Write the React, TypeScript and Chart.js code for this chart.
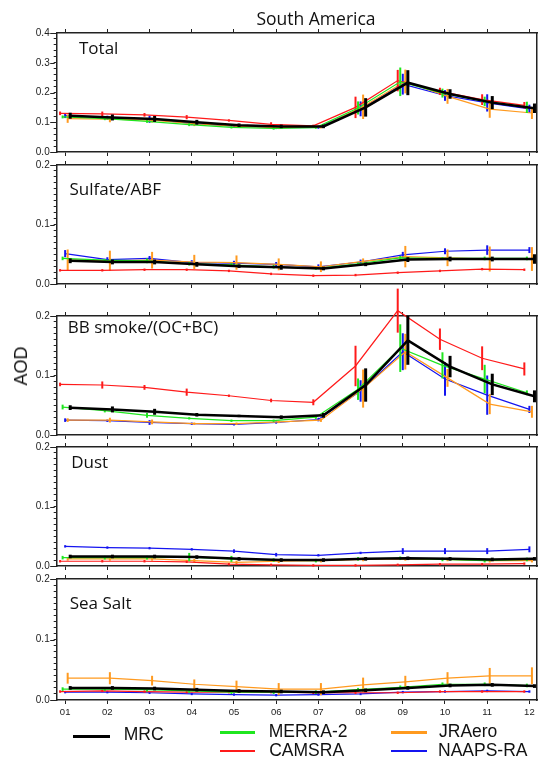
import React, { useEffect, useRef } from 'react';
import { Chart, registerables } from 'chart.js';

Chart.register(...registerables);

// ---------------- data ----------------
const months = [1, 2, 3, 4, 5, 6, 7, 8, 9, 10, 11, 12];
const monthLabels = ['01', '02', '03', '04', '05', '06', '07', '08', '09', '10', '11', '12'];

const modelNames = ['MRC', 'MERRA-2', 'CAMSRA', 'JRAero', 'NAAPS-RA'];
const modelColors = ['#000000', '#1fe61f', '#ff1a1a', '#ff9a1f', '#1414f0'];
const modelOffsets = [0.12, -0.06, -0.12, 0.06, 0];

const panelTitles = ['Total', 'Sulfate/ABF', 'BB smoke/(OC+BC)', 'Dust', 'Sea Salt'];
const panelMax = [0.4, 0.2, 0.2, 0.2, 0.2];
const panelMinorStep = [0.02, 0.01, 0.01, 0.01, 0.01];

// Total
const mrcTotal = [0.122, 0.116, 0.111, 0.100, 0.090, 0.086, 0.086, 0.150, 0.233, 0.195, 0.166, 0.147];
const merraTotal = [0.118, 0.112, 0.103, 0.092, 0.083, 0.079, 0.082, 0.148, 0.236, 0.198, 0.170, 0.150];
const camsTotal = [0.130, 0.128, 0.125, 0.117, 0.106, 0.093, 0.088, 0.150, 0.240, 0.204, 0.176, 0.157];
const jraTotal = [0.112, 0.110, 0.107, 0.095, 0.087, 0.082, 0.084, 0.152, 0.237, 0.187, 0.144, 0.131];
const naapsTotal = [0.122, 0.115, 0.110, 0.096, 0.087, 0.082, 0.083, 0.145, 0.228, 0.190, 0.165, 0.145];
const mrcTotalErr = [0.010, 0.010, 0.010, 0.008, 0.006, 0.006, 0.006, 0.031, 0.042, 0.016, 0.022, 0.016];
const merraTotalErr = [0.005, 0.005, 0.005, 0.005, 0.004, 0.004, 0.004, 0.022, 0.048, 0.015, 0.016, 0.019];
const camsTotalErr = [0.006, 0.008, 0.006, 0.007, 0.004, 0.007, 0.004, 0.036, 0.036, 0.012, 0.018, 0.011];
const jraTotalErr = [0.014, 0.010, 0.008, 0.008, 0.006, 0.005, 0.005, 0.041, 0.040, 0.025, 0.029, 0.020];
const naapsTotalErr = [0.008, 0.007, 0.012, 0.006, 0.005, 0.005, 0.005, 0.025, 0.035, 0.018, 0.029, 0.014];

// Sulfate / ABF
const mrcSulf = [0.039, 0.037, 0.037, 0.033, 0.030, 0.028, 0.026, 0.033, 0.041, 0.042, 0.042, 0.042];
const merraSulf = [0.043, 0.040, 0.039, 0.034, 0.032, 0.029, 0.026, 0.034, 0.044, 0.043, 0.043, 0.043];
const camsSulf = [0.023, 0.023, 0.024, 0.024, 0.022, 0.017, 0.014, 0.015, 0.019, 0.022, 0.025, 0.024];
const jraSulf = [0.040, 0.039, 0.040, 0.037, 0.036, 0.033, 0.029, 0.038, 0.046, 0.044, 0.042, 0.042];
const naapsSulf = [0.051, 0.041, 0.043, 0.036, 0.035, 0.033, 0.029, 0.037, 0.049, 0.055, 0.057, 0.057];
const mrcSulfErr = [0.004, 0.004, 0.004, 0.004, 0.003, 0.004, 0.003, 0.003, 0.004, 0.004, 0.004, 0.008];
const merraSulfErr = [0.003, 0.002, 0.004, 0.003, 0.003, 0.003, 0.002, 0.002, 0.003, 0.002, 0.003, 0.003];
const camsSulfErr = [0.002, 0.002, 0.002, 0.002, 0.002, 0.002, 0.002, 0.002, 0.002, 0.002, 0.002, 0.002];
const jraSulfErr = [0.018, 0.017, 0.014, 0.012, 0.012, 0.010, 0.009, 0.005, 0.018, 0.014, 0.021, 0.020];
const naapsSulfErr = [0.006, 0.004, 0.004, 0.004, 0.004, 0.004, 0.004, 0.004, 0.005, 0.005, 0.008, 0.005];

// BB smoke / (OC+BC)
const mrcBB = [0.046, 0.043, 0.039, 0.034, 0.032, 0.030, 0.033, 0.084, 0.159, 0.115, 0.085, 0.065];
const merraBB = [0.047, 0.041, 0.033, 0.028, 0.024, 0.024, 0.030, 0.077, 0.146, 0.117, 0.094, 0.071];
const camsBB = [0.085, 0.084, 0.080, 0.072, 0.066, 0.058, 0.055, 0.116, 0.209, 0.161, 0.129, 0.111];
const jraBB = [0.025, 0.025, 0.022, 0.019, 0.019, 0.022, 0.025, 0.078, 0.140, 0.096, 0.052, 0.039];
const naapsBB = [0.025, 0.024, 0.021, 0.019, 0.018, 0.021, 0.026, 0.074, 0.140, 0.094, 0.067, 0.043];
const mrcBBErr = [0.004, 0.005, 0.005, 0.003, 0.002, 0.003, 0.004, 0.028, 0.041, 0.018, 0.018, 0.010];
const merraBBErr = [0.004, 0.003, 0.004, 0.002, 0.002, 0.002, 0.003, 0.018, 0.040, 0.022, 0.024, 0.004];
const camsBBErr = [0.003, 0.006, 0.004, 0.006, 0.002, 0.003, 0.005, 0.034, 0.037, 0.018, 0.020, 0.011];
const jraBBErr = [0.003, 0.004, 0.004, 0.002, 0.002, 0.002, 0.003, 0.032, 0.030, 0.015, 0.017, 0.010];
const naapsBBErr = [0.003, 0.002, 0.004, 0.002, 0.002, 0.002, 0.003, 0.018, 0.031, 0.028, 0.033, 0.006];

// Dust
const mrcDust = [0.016, 0.016, 0.016, 0.015, 0.012, 0.010, 0.010, 0.012, 0.013, 0.012, 0.011, 0.012];
const merraDust = [0.014, 0.014, 0.014, 0.015, 0.012, 0.010, 0.009, 0.012, 0.013, 0.011, 0.009, 0.011];
const camsDust = [0.008, 0.008, 0.008, 0.007, 0.003, 0.002, 0.001, 0.001, 0.002, 0.003, 0.003, 0.004];
const jraDust = [0.012, 0.012, 0.012, 0.009, 0.006, 0.008, 0.009, 0.011, 0.012, 0.011, 0.009, 0.009];
const naapsDust = [0.033, 0.031, 0.030, 0.028, 0.025, 0.019, 0.018, 0.022, 0.025, 0.025, 0.025, 0.028];
const mrcDustErr = [0.003, 0.003, 0.003, 0.003, 0.003, 0.003, 0.003, 0.003, 0.003, 0.003, 0.003, 0.003];
const merraDustErr = [0.003, 0.003, 0.003, 0.007, 0.005, 0.003, 0.003, 0.003, 0.003, 0.003, 0.003, 0.003];
const camsDustErr = [0.002, 0.002, 0.002, 0.002, 0.002, 0.002, 0.002, 0.002, 0.002, 0.002, 0.002, 0.002];
const jraDustErr = [0.003, 0.003, 0.003, 0.003, 0.003, 0.003, 0.003, 0.003, 0.003, 0.003, 0.003, 0.003];
const naapsDustErr = [0.002, 0.002, 0.002, 0.002, 0.003, 0.003, 0.002, 0.002, 0.005, 0.005, 0.005, 0.005];

// Sea Salt
const mrcSS = [0.020, 0.020, 0.019, 0.017, 0.015, 0.014, 0.013, 0.016, 0.020, 0.024, 0.025, 0.023];
const merraSS = [0.018, 0.018, 0.017, 0.015, 0.013, 0.013, 0.013, 0.017, 0.021, 0.026, 0.026, 0.024];
const camsSS = [0.014, 0.015, 0.014, 0.013, 0.013, 0.013, 0.012, 0.012, 0.012, 0.014, 0.014, 0.014];
const jraSS = [0.036, 0.036, 0.032, 0.026, 0.022, 0.018, 0.018, 0.025, 0.030, 0.036, 0.040, 0.040];
const naapsSS = [0.013, 0.013, 0.012, 0.010, 0.009, 0.008, 0.009, 0.010, 0.013, 0.014, 0.015, 0.014];
const mrcSSErr = [0.003, 0.003, 0.003, 0.003, 0.003, 0.003, 0.003, 0.003, 0.003, 0.003, 0.003, 0.003];
const merraSSErr = [0.003, 0.003, 0.003, 0.003, 0.003, 0.003, 0.003, 0.003, 0.003, 0.003, 0.003, 0.003];
const camsSSErr = [0.002, 0.002, 0.002, 0.002, 0.002, 0.002, 0.002, 0.002, 0.002, 0.002, 0.002, 0.002];
const jraSSErr = [0.009, 0.010, 0.008, 0.008, 0.010, 0.010, 0.010, 0.012, 0.010, 0.010, 0.013, 0.014];
const naapsSSErr = [0.002, 0.002, 0.002, 0.002, 0.002, 0.002, 0.002, 0.002, 0.002, 0.002, 0.002, 0.002];

// order of each: MRC, MERRA-2, CAMSRA, JRAero, NAAPS-RA
const panelSeries = [
  [mrcTotal, merraTotal, camsTotal, jraTotal, naapsTotal],
  [mrcSulf, merraSulf, camsSulf, jraSulf, naapsSulf],
  [mrcBB, merraBB, camsBB, jraBB, naapsBB],
  [mrcDust, merraDust, camsDust, jraDust, naapsDust],
  [mrcSS, merraSS, camsSS, jraSS, naapsSS],
];
const panelErrors = [
  [mrcTotalErr, merraTotalErr, camsTotalErr, jraTotalErr, naapsTotalErr],
  [mrcSulfErr, merraSulfErr, camsSulfErr, jraSulfErr, naapsSulfErr],
  [mrcBBErr, merraBBErr, camsBBErr, jraBBErr, naapsBBErr],
  [mrcDustErr, merraDustErr, camsDustErr, jraDustErr, naapsDustErr],
  [mrcSSErr, merraSSErr, camsSSErr, jraSSErr, naapsSSErr],
];

// ---------------- layout ----------------
const W = 538;
const panelTops = [33, 165, 316, 447, 579];
const panelH = 121;
const topPad = 30;
const axisLeft = 56.7;
const sansAxis = '"Liberation Sans", Arial, sans-serif';
const sansLabel = '"Open Sans", sans-serif';
const axisColor = '#222';

const isMajor = (v: number) => Math.abs(v * 10 - Math.round(v * 10)) < 1e-6;

const errorBarPlugin = {
  id: 'errorBars',
  afterDatasetDraw(chart: any, args: any) {
    const ds = chart.data.datasets[args.index];
    const meta = args.meta;
    const ys = chart.scales.y;
    const ctx = chart.ctx;
    ctx.save();
    ctx.strokeStyle = ds.borderColor;
    ctx.lineWidth = ds.errWidth;
    ctx.lineCap = 'butt';
    meta.data.forEach((pt: any, k: number) => {
      const v = ds.data[k].y;
      const e = ds.errors[k];
      ctx.beginPath();
      ctx.moveTo(pt.x, ys.getPixelForValue(v - e));
      ctx.lineTo(pt.x, ys.getPixelForValue(v + e));
      ctx.stroke();
    });
    ctx.restore();
  },
};

const majorTickPlugin = {
  id: 'majorTicks',
  afterDraw(chart: any) {
    const ys = chart.scales.y;
    const ctx = chart.ctx;
    const left = chart.chartArea.left;
    ctx.save();
    ctx.strokeStyle = axisColor;
    ctx.lineWidth = 1;
    ys.ticks.forEach((t: any) => {
      if (!isMajor(t.value)) return;
      const py = Math.round(ys.getPixelForValue(t.value)) + 0.5;
      ctx.beginPath();
      ctx.moveTo(left - 6.5, py);
      ctx.lineTo(left - 2, py);
      ctx.stroke();
    });
    ctx.restore();
  },
};

function makeConfig(p: number): any {
  const last = p === 4;
  const bottomH = last ? 30 : 8;
  const series = panelSeries[p];
  const errs = panelErrors[p];
  return {
    type: 'line',
    data: {
      datasets: series.map((vals, m) => ({
        label: modelNames[m],
        data: months.map((mo, k) => ({ x: mo + modelOffsets[m], y: vals[k] })),
        errors: errs[m],
        errWidth: m === 0 ? 3 : 2,
        borderColor: modelColors[m],
        backgroundColor: modelColors[m],
        borderWidth: m === 0 ? 2.5 : 1.2,
        pointRadius: 0,
        tension: 0,
        clip: false,
      })),
    },
    options: {
      animation: false,
      responsive: false,
      events: [],
      layout: { padding: 0 },
      plugins: { legend: { display: false }, tooltip: { enabled: false }, title: { display: false } },
      scales: {
        x: {
          type: 'linear',
          position: 'bottom',
          min: 0.8,
          max: 12.18,
          afterFit: (s: any) => { s.height = bottomH; },
          ticks: {
            stepSize: 1,
            includeBounds: false,
            autoSkip: false,
            maxRotation: 0,
            display: last,
            padding: 3,
            color: axisColor,
            font: { family: sansAxis, size: 9.5 },
            callback: (v: number) => monthLabels[Math.round(v) - 1] ?? '',
          },
          grid: { drawOnChartArea: false, tickLength: 4, color: axisColor },
          border: { display: true, color: axisColor, width: 1.5 },
        },
        xTop: {
          type: 'linear',
          position: 'top',
          min: 0.8,
          max: 12.18,
          afterFit: (s: any) => { s.height = topPad; },
          ticks: { stepSize: 1, includeBounds: false, display: false },
          grid: { drawOnChartArea: false, tickLength: 4, color: axisColor },
          border: { display: true, color: axisColor, width: 1.5 },
        },
        y: {
          type: 'linear',
          position: 'left',
          min: 0,
          max: panelMax[p],
          afterFit: (s: any) => { s.width = axisLeft; },
          ticks: {
            stepSize: panelMinorStep[p],
            autoSkip: false,
            maxTicksLimit: 100,
            padding: 4,
            color: axisColor,
            font: { family: sansAxis, size: 10 },
            callback: (v: number) => (isMajor(v) ? v.toFixed(1) : ''),
          },
          grid: { drawOnChartArea: false, tickLength: 3, color: axisColor },
          border: { display: true, color: axisColor, width: 1.5 },
        },
        yRight: {
          type: 'linear',
          position: 'right',
          min: 0,
          max: 1,
          afterFit: (s: any) => { s.width = 1; },
          ticks: { display: false },
          grid: { display: false, drawTicks: false },
          border: { display: true, color: axisColor, width: 1.5 },
        },
      },
    },
    plugins: [errorBarPlugin, majorTickPlugin],
  };
}

const labelPos = [
  { left: 79, capTop: 41.7 },
  { left: 69.5, capTop: 183.3 },
  { left: 67.8, capTop: 320.7 },
  { left: 71.2, capTop: 456 },
  { left: 69.7, capTop: 597.3 },
];

const legendItems = [
  { i: 0, lineX: 73, lineW: 37, lineY: 736.7, textX: 123.7, capTop: 728.5, lw: 3 },
  { i: 1, lineX: 220, lineW: 35, lineY: 732.3, textX: 268.7, capTop: 725, lw: 2.5 },
  { i: 2, lineX: 220, lineW: 35, lineY: 751, textX: 269.2, capTop: 744, lw: 2.5 },
  { i: 3, lineX: 390.7, lineW: 36, lineY: 732.3, textX: 439, capTop: 725, lw: 2.5 },
  { i: 4, lineX: 390.7, lineW: 36, lineY: 751, textX: 438, capTop: 744, lw: 2.5 },
];

export default function App() {
  const refs = useRef<(HTMLCanvasElement | null)[]>([]);

  useEffect(() => {
    const charts: Chart[] = [];
    refs.current.forEach((c, p) => {
      if (c) charts.push(new Chart(c, makeConfig(p)));
    });
    return () => charts.forEach((ch) => ch.destroy());
  }, []);

  return (
    <div style={{ position: 'absolute', left: 0, top: 0, width: W, height: 760, background: '#fff', overflow: 'hidden' }}>
      {panelTops.map((t, p) => {
        const h = topPad + panelH + (p === 4 ? 30 : 8);
        return (
          <canvas
            key={p}
            ref={(el) => { refs.current[p] = el; }}
            width={W}
            height={h}
            style={{ position: 'absolute', left: 0, top: t - topPad, width: W, height: h }}
          />
        );
      })}

      <div style={{ position: 'absolute', left: 216, width: 200, top: 10.2, textAlign: 'center', fontFamily: sansLabel, fontSize: 17.5, lineHeight: 1, color: '#111', whiteSpace: 'nowrap' }}>
        South America
      </div>

      {panelTitles.map((t, p) => (
        <div key={t} style={{ position: 'absolute', left: labelPos[p].left, top: labelPos[p].capTop - 3, fontFamily: sansLabel, fontSize: 17, lineHeight: 1, color: '#111', whiteSpace: 'nowrap' }}>
          {t}
        </div>
      ))}

      <div style={{ position: 'absolute', left: 20.6, top: 366, transform: 'translate(-50%, -50%) rotate(-90deg)', fontFamily: sansAxis, fontSize: 18, lineHeight: 1, color: '#111', whiteSpace: 'nowrap' }}>
        AOD
      </div>

      {legendItems.map((it) => (
        <React.Fragment key={it.i}>
          <div style={{ position: 'absolute', left: it.lineX, top: it.lineY - it.lw / 2, width: it.lineW, height: it.lw, background: modelColors[it.i] }} />
          <div style={{ position: 'absolute', left: it.textX, top: it.capTop - 2.3, fontFamily: sansAxis, fontSize: 17.5, lineHeight: 1, color: '#111', whiteSpace: 'nowrap' }}>
            {modelNames[it.i]}
          </div>
        </React.Fragment>
      ))}
    </div>
  );
}
